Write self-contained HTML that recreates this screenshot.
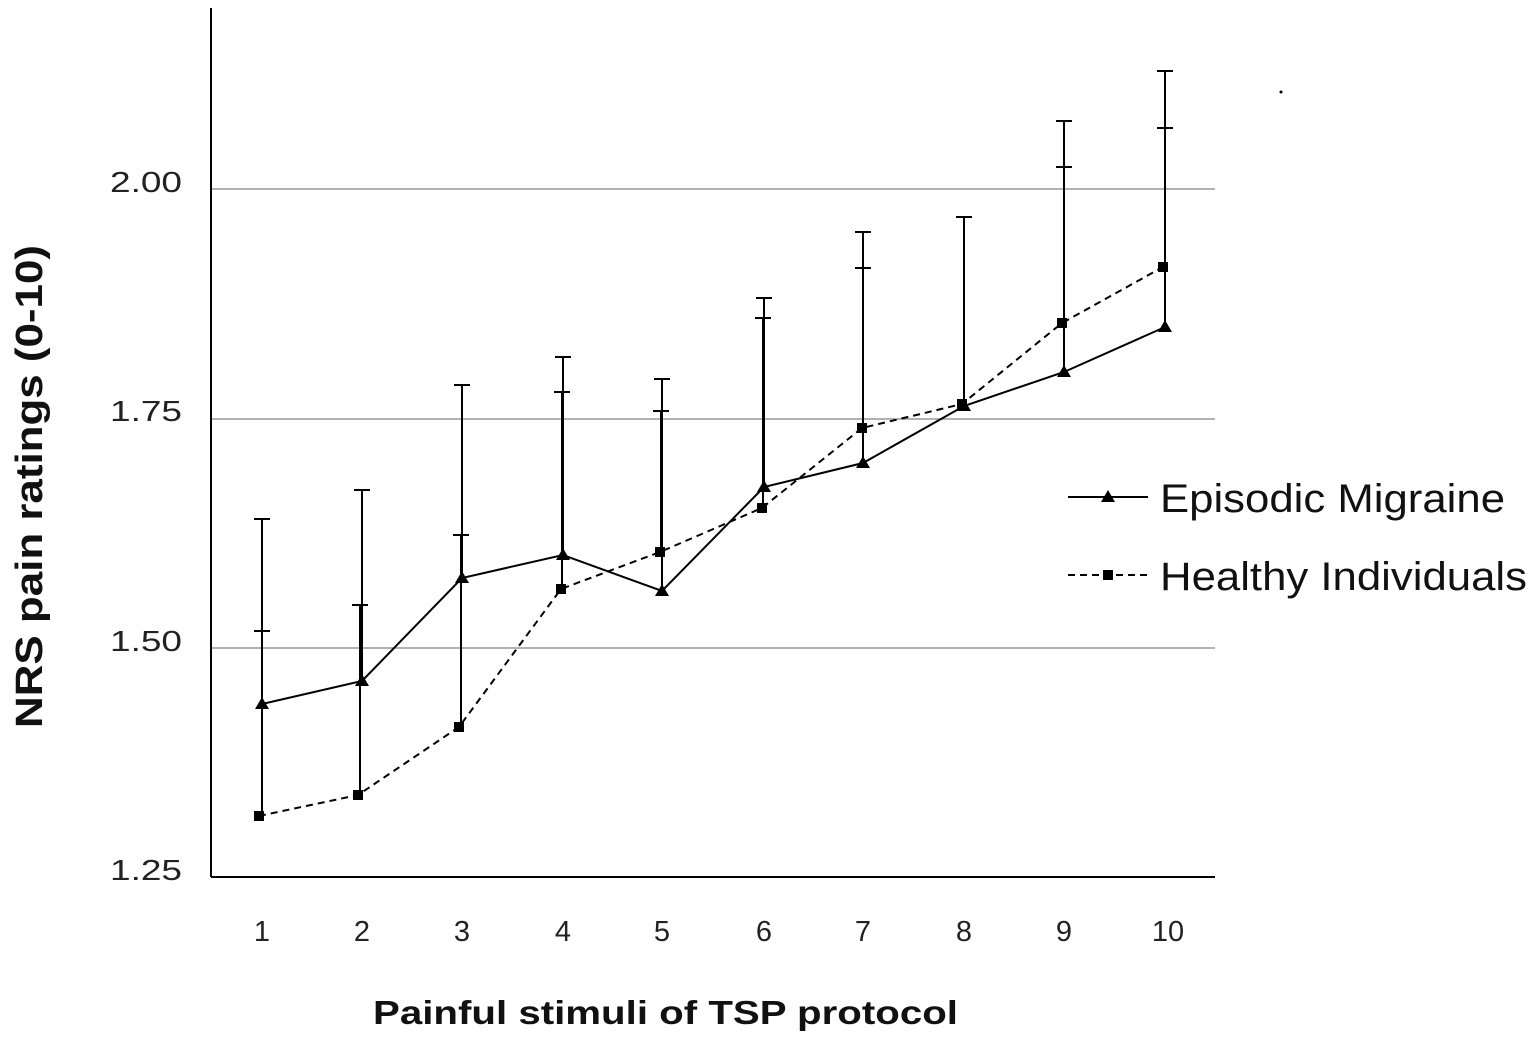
<!DOCTYPE html>
<html><head><style>body{margin:0;background:#fff}</style></head><body>
<svg width="1534" height="1039" xmlns="http://www.w3.org/2000/svg" font-family="Liberation Sans, sans-serif">
<rect width="1534" height="1039" fill="#fff"/>
<g stroke="#999" stroke-width="1.5">
<line x1="211" y1="189" x2="1215" y2="189"/>
<line x1="211" y1="419" x2="1215" y2="419"/>
<line x1="211" y1="648" x2="1215" y2="648"/>
</g>
<g stroke="#000" stroke-width="2">
<line x1="211" y1="8" x2="211" y2="877"/>
<line x1="211" y1="877" x2="1215" y2="877"/>
</g>
<g font-size="29" fill="#222">
<text x="110" y="192" textLength="72" lengthAdjust="spacingAndGlyphs">2.00</text>
<text x="110" y="421" textLength="72" lengthAdjust="spacingAndGlyphs">1.75</text>
<text x="110" y="651" textLength="72" lengthAdjust="spacingAndGlyphs">1.50</text>
<text x="110" y="880" textLength="72" lengthAdjust="spacingAndGlyphs">1.25</text>
</g>
<g font-size="29" fill="#222" text-anchor="middle">
<text x="262" y="941">1</text><text x="362" y="941">2</text><text x="462" y="941">3</text><text x="563" y="941">4</text><text x="662" y="941">5</text><text x="764" y="941">6</text><text x="863" y="941">7</text><text x="964" y="941">8</text><text x="1064" y="941">9</text><text x="1168" y="941">10</text>
</g>
<text x="373" y="1024" font-size="33" font-weight="bold" fill="#111" textLength="585" lengthAdjust="spacingAndGlyphs">Painful  stimuli  of  TSP  protocol</text>
<text transform="translate(42,728) rotate(-90)" font-size="38" font-weight="bold" fill="#111" textLength="483" lengthAdjust="spacingAndGlyphs">NRS pain ratings (0-10)</text>
<g stroke="#000" stroke-width="2" fill="none">
<path d="M262 704V519M254 519h16M262 816V631M254 631h16"/>
<path d="M362 681V490M354 490h16M360 795V605M352 605h16"/>
<path d="M462 578V385M454 385h16M461 727V535M453 535h16"/>
<path d="M563 555V357M555 357h16M562 589V392M554 392h16"/>
<path d="M662 591V379M654 379h16M661 552V411M653 411h16"/>
<path d="M764 487V298M756 298h16M763 508V318M755 318h16"/>
<path d="M863 463V232M855 232h16M863 428V268M855 268h16"/>
<path d="M964 406V217M956 217h16"/>
<path d="M1064 372V121M1056 121h16M1064 323V167M1056 167h16"/>
<path d="M1165 327V71M1157 71h16M1165 267V128M1157 128h16"/>
<polyline points="262,704 362,681 462,578 563,555 662,591 764,487 863,463 964,406 1064,372 1165,327"/>
<polyline stroke-dasharray="7,5" points="259,816 358,795 459,727 561,589 660,552 762,508 862,428 962,404 1062,323 1163,267"/>
</g>
<g fill="#000">
<path d="M262 697l7 12h-14z M362 674l7 12h-14z M462 571l7 12h-14z M563 548l7 12h-14z M662 584l7 12h-14z M764 480l7 12h-14z M863 456l7 12h-14z M964 399l7 12h-14z M1064 365l7 12h-14z M1165 320l7 12h-14z"/>
<rect x="254" y="811" width="10" height="10"/><rect x="353" y="790" width="10" height="10"/><rect x="454" y="722" width="10" height="10"/><rect x="556" y="584" width="10" height="10"/><rect x="655" y="547" width="10" height="10"/><rect x="757" y="503" width="10" height="10"/><rect x="857" y="423" width="10" height="10"/><rect x="957" y="399" width="10" height="10"/><rect x="1057" y="318" width="10" height="10"/><rect x="1158" y="262" width="10" height="10"/>
<circle cx="1281" cy="92" r="1.5"/>
</g>
<line x1="1068" y1="497" x2="1148" y2="497" stroke="#000" stroke-width="2"/>
<path d="M1108 490l7 12h-14z" fill="#000"/>
<line x1="1068" y1="575" x2="1148" y2="575" stroke="#000" stroke-width="2" stroke-dasharray="7,5"/>
<rect x="1103" y="570" width="10" height="10" fill="#000"/>
<text x="1160" y="512" font-size="40" fill="#111" textLength="345" lengthAdjust="spacingAndGlyphs">Episodic Migraine</text>
<text x="1160" y="590" font-size="40" fill="#111" textLength="367" lengthAdjust="spacingAndGlyphs">Healthy Individuals</text>
</svg>
</body></html>
